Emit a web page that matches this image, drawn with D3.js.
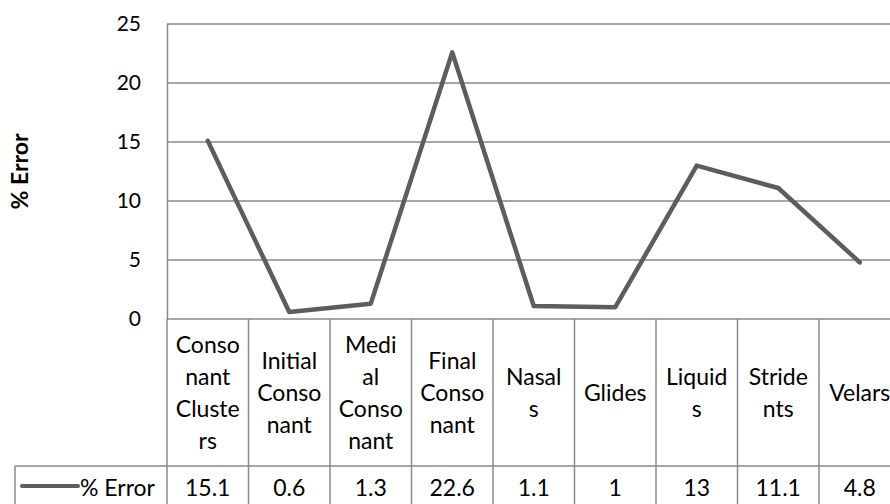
<!DOCTYPE html>
<html>
<head>
<meta charset="utf-8">
<script src="https://cdn.jsdelivr.net/npm/d3@7/dist/d3.min.js"></script>
<style>
  html, body { margin: 0; padding: 0; background: #fff; overflow: hidden; }
  svg { display: block; font-family: Lato, "Open Sans", sans-serif; }
</style>
</head>
<body>
<svg id="chart" width="890" height="504"></svg>
<script>
// Error rates by phoneme category
const categories = ["Consonant Clusters", "Initial Consonant", "Medial Consonant", "Final Consonant",
                    "Nasals", "Glides", "Liquids", "Stridents", "Velars"];
const categoryLines = [["Conso", "nant", "Cluste", "rs"], ["Initial", "Conso", "nant"],
                       ["Medi", "al", "Conso", "nant"], ["Final", "Conso", "nant"],
                       ["Nasal", "s"], ["Glides"], ["Liquid", "s"], ["Stride", "nts"], ["Velars"]];
const errorValues = [15.1, 0.6, 1.3, 22.6, 1.1, 1, 13, 11.1, 4.8];
const valueLabels = ["15.1", "0.6", "1.3", "22.6", "1.1", "1", "13", "11.1", "4.8"];
const yTicks = [0, 5, 10, 15, 20, 25];
const seriesName = "% Error";

const svg = d3.select("#chart");
const gridColor = "#898989";
const lineColor = "#5d5d5d";
const tickFont = 21;
const textFont = 23;

const plotLeft = 167, plotRight = 900.5, plotTop = 24, plotBottom = 319;
const catRowBottom = 466, valRowBottom = 512, legendLeft = 15;

const x = d3.scaleBand().domain(categories).range([plotLeft, plotRight]).padding(0);
const y = d3.scaleLinear().domain([0, 25]).range([plotBottom, plotTop]);

// horizontal gridlines
svg.append("g").selectAll("line").data(yTicks).join("line")
  .attr("x1", plotLeft).attr("x2", plotRight)
  .attr("y1", d => y(d)).attr("y2", d => y(d))
  .attr("stroke", gridColor).attr("stroke-width", 1.5);

// value axis
const yAxis = svg.append("g")
  .attr("transform", `translate(${plotLeft},0)`)
  .call(d3.axisLeft(y).tickValues(yTicks).tickSize(0).tickPadding(26));
yAxis.select(".domain").attr("stroke", gridColor).attr("stroke-width", 1.5);
yAxis.selectAll("text").attr("font-size", tickFont).attr("fill", "#000")
  .attr("font-family", "Lato, sans-serif");

// axis title
svg.append("text")
  .attr("transform", `translate(28,${(plotTop + plotBottom) / 2}) rotate(-90)`)
  .attr("text-anchor", "middle")
  .attr("font-weight", "bold").attr("font-size", 23)
  .text(seriesName);

// data table grid
const table = svg.append("g");
const colEdges = categories.map(c => x(c)).concat([plotRight]);
table.selectAll("line.v").data(colEdges).join("line")
  .attr("x1", d => d).attr("x2", d => d)
  .attr("y1", plotBottom).attr("y2", valRowBottom)
  .attr("stroke", gridColor).attr("stroke-width", 1.5);
table.append("line")
  .attr("x1", legendLeft).attr("x2", plotRight)
  .attr("y1", catRowBottom).attr("y2", catRowBottom)
  .attr("stroke", gridColor).attr("stroke-width", 1.5);
table.append("line")
  .attr("x1", legendLeft).attr("x2", legendLeft)
  .attr("y1", catRowBottom).attr("y2", valRowBottom)
  .attr("stroke", gridColor).attr("stroke-width", 1.5);

// category labels, wrapped
const lineGap = 32;
const catMid = (plotBottom + catRowBottom) / 2;
table.selectAll("text.cat").data(categories).join("text")
  .attr("class", "cat")
  .attr("text-anchor", "middle")
  .attr("font-size", textFont)
  .each(function (d, i) {
    const lines = categoryLines[i];
    const first = catMid + 8 - (lines.length - 1) * lineGap / 2;
    d3.select(this).selectAll("tspan").data(lines).join("tspan")
      .attr("x", x(d) + x.bandwidth() / 2)
      .attr("y", (l, j) => first + j * lineGap)
      .text(l => l);
  });

// value row
const valBase = 496;
table.selectAll("text.val").data(categories).join("text")
  .attr("class", "val")
  .attr("x", d => x(d) + x.bandwidth() / 2)
  .attr("y", valBase)
  .attr("text-anchor", "middle")
  .attr("font-size", textFont)
  .text((d, i) => valueLabels[i]);

// legend key
svg.append("line")
  .attr("x1", 22).attr("x2", 78).attr("y1", 486).attr("y2", 486)
  .attr("stroke", lineColor).attr("stroke-width", 4).attr("stroke-linecap", "round");
svg.append("text")
  .attr("x", 80).attr("y", valBase)
  .attr("font-size", textFont)
  .text(seriesName);

// series line
const line = d3.line()
  .x((d, i) => x(categories[i]) + x.bandwidth() / 2)
  .y(d => y(d));
svg.append("path")
  .datum(errorValues)
  .attr("d", line)
  .attr("fill", "none")
  .attr("stroke", lineColor)
  .attr("stroke-width", 4.5)
  .attr("stroke-linejoin", "round")
  .attr("stroke-linecap", "round");
</script>
</body>
</html>
